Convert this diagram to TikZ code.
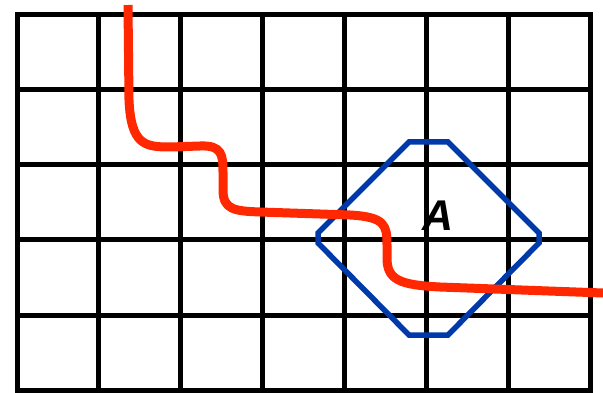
\documentclass[tikz,border=0pt]{standalone}
\usepackage{fontspec}
\setmainfont{Liberation Sans}
\definecolor{curvered}{RGB}{255,40,0}
\definecolor{octblue}{RGB}{0,58,170}
\tikzset{
  gridline/.style={line width=5pt, black, line cap=rect},
  redcurve/.style={line width=9pt, curvered, line join=round},
  octline/.style={line width=5.5pt, octblue, line join=miter},
}
\begin{document}
\begin{tikzpicture}[x=1pt,y=-1pt]
\useasboundingbox (0,0) rectangle (603,393);
% grid
\foreach \i in {0,...,7} {
  \draw[gridline] ({17+\i*81.857},15) -- ({17+\i*81.857},390);
}
\foreach \j in {0,...,5} {
  \draw[gridline] (17,{15+\j*75}) -- (590,{15+\j*75});
}
% octagon
\draw[octline] (409,142) -- (448,142) -- (539,233) -- (539,243) -- (448,335) -- (409,335) -- (318,243) -- (318,233) -- cycle;
% red curve
\draw[redcurve] (128,5) -- (129,100)
  .. controls (131,145) and (145,147) .. (170,147)
  -- (200,146)
  .. controls (222,145) and (223,155) .. (223,172)
  -- (223,190)
  .. controls (223,210) and (235,211) .. (260,212)
  -- (350,215)
  .. controls (385,217) and (387,225) .. (387,245)
  -- (387,258)
  .. controls (387,280) and (400,285) .. (440,287)
  -- (603,293);
% label
\node[anchor=base, inner sep=0pt] (labelA) at (438.5,230) {\fontsize{43}{43}\selectfont\bfseries\itshape A};
\end{tikzpicture}
\end{document}
